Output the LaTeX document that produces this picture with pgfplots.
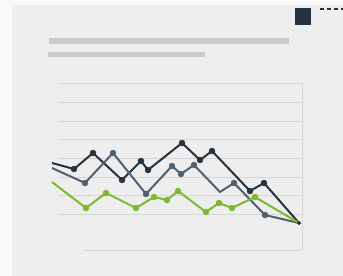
\documentclass[border=0pt]{standalone}
\usepackage{pgfplots}
\pgfplotsset{compat=1.18}
\definecolor{outer}{HTML}{F9F9F9}
\definecolor{card}{HTML}{EEEEEE}
\definecolor{barc}{HTML}{CACACA}
\definecolor{gridc}{HTML}{D6D6D6}
\definecolor{darkc}{HTML}{27323C}
\definecolor{slatec}{HTML}{4F6070}
\definecolor{greenc}{HTML}{7DB82E}
\begin{document}
\begin{tikzpicture}
\begin{axis}[
  width=343pt, height=276pt, scale only axis,
  xmin=0, xmax=343, ymin=0, ymax=276, y dir=reverse,
  hide axis, clip=true,
]
% outer and card
\addplot[draw=none, fill=outer] coordinates {(0,0) (343,0) (343,276) (0,276)} -- cycle;
\addplot[draw=none, fill=card] coordinates {(12,5) (343,5) (343,276) (12,276)} -- cycle;
% title bars
\addplot[draw=none, fill=barc] coordinates {(49,37.5) (289,37.5) (289,43.5) (49,43.5)} -- cycle;
\addplot[draw=none, fill=barc] coordinates {(48,51.5) (205,51.5) (205,57) (48,57)} -- cycle;
% legend square and dash
\addplot[draw=none, fill=darkc] coordinates {(295,8) (311,8) (311,25) (295,25)} -- cycle;
\addplot[darkc, line width=1.3pt, dash pattern=on 4pt off 3pt] coordinates {(320,9) (343,9)};
% grid
\foreach \yy in {83,102,121,139,158,177,195,214} {
  \edef\tmp{\noexpand\addplot[gridc, line width=0.6pt] coordinates {(58,\yy) (302,\yy)};}
  \tmp
}
\addplot[gridc, line width=0.6pt] coordinates {(83,250) (302,250)};
\addplot[gridc, line width=0.6pt] coordinates {(302,83) (302,250)};
% series
\addplot[darkc, line width=2pt] coordinates {(52,163) (74,169) (93,153) (122,180) (141,161) (148,170) (182,143) (200,160) (212,151) (250,191) (264,183) (299,223)};
\addplot[only marks, mark=*, mark size=3pt, darkc] coordinates {(74,169) (93,153) (122,180) (141,161) (148,170) (182,143) (200,160) (212,151) (250,191) (264,183)};
\addplot[slatec, line width=2pt] coordinates {(52,168) (85,183) (113,153) (146,194) (172,166) (181,174) (194,165) (220,192) (234,183) (265,215) (299,223)};
\addplot[only marks, mark=*, mark size=3pt, slatec] coordinates {(85,183) (113,153) (146,194) (172,166) (181,174) (194,165) (234,183) (265,215)};
\addplot[greenc, line width=2pt] coordinates {(52,182) (86,208) (106,193) (136,208) (154,197) (167,200) (178,191) (206,212) (219,203) (232,208) (255,197) (299,223)};
\addplot[only marks, mark=*, mark size=3pt, greenc] coordinates {(86,208) (106,193) (136,208) (154,197) (167,200) (178,191) (206,212) (219,203) (232,208) (255,197)};
\addplot[only marks, mark=*, mark size=1.8pt, darkc] coordinates {(299,223)};
\end{axis}
\end{tikzpicture}
\end{document}
